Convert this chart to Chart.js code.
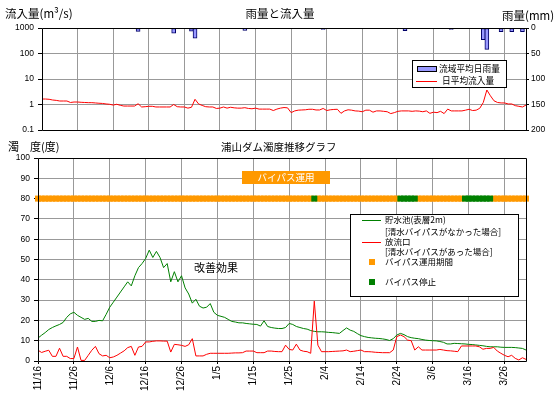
<!DOCTYPE html>
<html><head><meta charset="utf-8">
<script src="https://cdn.jsdelivr.net/npm/chart.js@4.4.1/dist/chart.umd.min.js"></script>
<style>
body{margin:0;background:#fff}
#wrap{position:relative;width:559px;height:394px;background:#fff}
canvas{position:absolute;left:0}
</style>
</head><body>
<div id="wrap">
<canvas id="topc" width="559" height="140" style="top:0"></canvas>
<canvas id="botc" width="559" height="254" style="top:140px"></canvas>
</div>
<script>
// ---------- categories ----------
const startMonth = 11, startDay = 16, dayCount = 137;
const monthLen = {11:30, 12:31, 1:31, 2:28, 3:31, 4:30};
const dates = [];
(function(){ let m = startMonth, d = startDay;
  for (let i = 0; i < dayCount; i++) { dates.push(m + '/' + d); d++; if (d > monthLen[m]) { d = 1; m = (m === 12) ? 1 : m + 1; } }
})();
const dateTickLabels = ['11/16','11/26','12/6','12/16','12/26','1/5','1/15','1/25','2/4','2/14','2/24','3/6','3/16','3/26'];

// ---------- series: 雨量と流入量 ----------
const inflow = [ // 日平均流入量 (m3/s)
 1.64,1.64,1.6,1.5,1.45,1.37,1.37,1.37,1.2,1.25,
 1.25,1.22,1.2,1.18,1.18,1.15,1.12,1.1,1.05,1.02,
 0.95,1.02,0.93,0.87,0.87,0.87,0.87,1.07,0.8,0.82,
 0.85,0.85,0.8,0.8,0.8,0.8,0.8,1.0,0.82,0.8,
 0.8,0.72,0.78,1.6,1.05,0.92,0.82,0.8,0.8,0.7,
 0.72,0.8,0.72,0.78,0.74,0.72,0.72,0.75,0.7,0.68,
 0.72,0.66,0.66,0.66,0.66,0.58,0.66,0.72,0.76,0.74,
 0.48,0.56,0.6,0.61,0.62,0.65,0.65,0.61,0.61,0.7,
 0.58,0.62,0.64,0.65,0.45,0.56,0.62,0.6,0.56,0.55,
 0.52,0.6,0.6,0.5,0.56,0.56,0.54,0.52,0.44,0.48,
 0.54,0.56,0.56,0.56,0.54,0.56,0.55,0.52,0.56,0.45,
 0.5,0.48,0.54,0.44,0.66,0.56,0.56,0.56,0.56,0.6,
 0.65,0.58,0.6,0.71,1.2,3.7,2.2,1.4,1.2,1.15,
 1.15,1.05,1.05,0.9,0.85,0.8,0.95];
const rainfall = [ // 流域平均日雨量 (mm)
 0,0,0,0,0,0,0,0,0,0,
 0,0,0,0,0,0,0,0,0,0,
 0,0,0,0,0,0,0,6.5,0,0,
 0,0,0,0,0,0,1,10,0,0,
 0,0,6,20,1,0,0,0,0,0,
 0,0,0,0,0,0,0,4.5,0,0,
 0,0,0,0,0,0,0,0,1,0,
 0,0,0,0,0,0,0,0,0,3,
 0,0,0,0,0,1,0,0,1,0,
 0,0,0,0,0,0,0,0,0,0,
 0,0,5,0,0,0,0,0,1,0,
 0,0,0,0,0,3,0,0,0,0,
 0,0,0,0,23,42,0,0,0,7,
 0,0,7,0,0,7,0];

// ---------- series: 濁度 ----------
const reservoir = [ // 貯水池(表層2m)
 11.3,12.7,14,15.5,16.5,17.3,18,19,21.5,23.2,
 24,22.5,21.5,20.5,21,19.5,19.5,20,19.8,23,
 26.5,29,31.5,34,36.5,39,37,42,46,48,
 50.5,54.6,51,54,51,46,48,39,44,39,
 42,36,33,28.5,30.4,27,26.1,26.5,28.3,24,
 22.5,22,21.5,20.5,19.5,19.2,18.8,18.8,18.5,18.3,
 18.1,18,17.2,19.8,17,16.5,16.2,16,16,16.5,
 18.5,18,17,16.5,16,15.7,15,14.6,14.4,14.4,
 14.3,14.1,14,13.8,13.6,15,16.3,15.2,14.6,13.5,
 12.5,12,11.6,11.4,11.2,11.1,10.9,10.6,10.1,11,
 12.8,13.6,13,12,11.5,11.2,11,10.6,10.3,10.1,
 10,9.9,9.6,9.2,8.4,8.4,8.7,8.6,8.5,8.4,
 8.2,8.1,7.9,7.7,7.5,7.2,7,7,7,6.8,
 6.7,6.7,6.7,6.6,6.4,6.2,5.4];
const outlet = [ // 放流口
 5.3,4.2,4.8,5.3,2.3,2.3,6.3,2.3,2.3,1.2,
 1.2,6.9,0.3,0.3,2.8,5.3,7.2,3.6,2.5,2.8,
 1.6,2,2.8,3.9,5,6.6,7.2,2.8,6.9,7.2,
 9.4,9.4,9.7,9.9,9.9,9.8,9.8,4.4,8.2,8,
 7.7,7.2,8,11,2.5,2.5,2.5,3.3,3.8,3.8,
 3.8,3.8,3.8,3.8,3.9,4,4,4.1,4.9,4.9,
 4.9,4.1,4.1,4.1,4.9,4.9,4.7,4.6,4.6,7.8,
 5.7,5.4,8.3,5.4,4.8,4.6,3.8,29.5,7.8,4.6,
 4.6,4.6,4.7,4.8,4.9,5,5.4,4.6,4.8,5.1,
 5.4,4.6,4.6,4.5,4.3,4.2,4.1,4.1,4.1,5.4,
 12,12.8,12,10.3,10,5.4,7,5.4,5.4,5.4,
 5.4,5.4,5.7,5.4,5.1,5,4.8,4.6,7.4,7.4,
 7.4,7.4,7.4,7,5.8,6.2,6.2,6.7,4.9,3.8,
 2.8,2.1,2.8,1.3,0.5,1.6,0.8];
const bypassStopDays = ['2/1','2/25','2/26','2/27','2/28','3/1','3/15','3/16','3/17','3/18','3/19','3/20','3/21','3/22'];
const bypassMarkLevel = 80;
const inflowTicks = [0.1, 1, 10, 100, 1000];

// ---------- helpers ----------
const JP = '"Noto Sans CJK JP", sans-serif';
const NUM = '"Liberation Sans", Arial, sans-serif';
const GRID = '#999999';
const dayTicks = dateTickLabels.map(s => ({value: dates.indexOf(s)}));

const framePlugin = {
  id: 'frame',
  afterDatasetsDraw(chart) {
    const a = chart.chartArea, c = chart.ctx;
    c.save(); c.strokeStyle = '#000'; c.lineWidth = 1;
    const l = Math.round(a.left) + 0.5, r = Math.round(a.right) + 0.5, t = Math.round(a.top) + 0.5, b = Math.round(a.bottom) + 0.5;
    c.beginPath(); c.moveTo(l, t); c.lineTo(r, t); c.lineTo(r, b); c.lineTo(l, b); c.closePath(); c.stroke();
    c.restore();
  }
};
function txt(c, s, x, y, size, align, color) {
  c.font = size + 'px ' + JP; c.textAlign = align || 'left'; c.textBaseline = 'middle'; c.fillStyle = color || '#000';
  c.fillText(s, x, y);
}

// ---------- top chart ----------
const topText = {
  id: 'topText',
  afterDraw(chart) {
    const c = chart.ctx; c.save();
    txt(c, '流入量(m³/s)', 5, 14, 11.5);
    txt(c, '雨量と流入量', 280, 14, 11.5, 'center');
    txt(c, '雨量(mm)', 502, 16, 11.5);
    // legend
    c.fillStyle = '#fff'; c.fillRect(412, 60, 94, 27);
    c.strokeStyle = '#000'; c.lineWidth = 1; c.strokeRect(412.5, 60.5, 94, 27);
    c.fillStyle = '#9999ff'; c.fillRect(417, 66, 19, 5); c.strokeRect(417.5, 66.5, 19, 5);
    txt(c, '流域平均日雨量', 439, 69, 8.7);
    c.strokeStyle = '#ff0000'; c.beginPath(); c.moveTo(416, 81.5); c.lineTo(437, 81.5); c.stroke();
    txt(c, '日平均流入量', 442, 81, 8.7);
    c.restore();
  }
};
new Chart(document.getElementById('topc'), {
  type: 'bar',
  data: { datasets: [
    { type: 'line', label: '日平均流入量', data: inflow.map((v, i) => ({x: i, y: v})), borderColor: '#ff0000', borderWidth: 1,
      pointRadius: 0, tension: 0, yAxisID: 'y', order: 0 },
    { type: 'bar', label: '流域平均日雨量', data: rainfall.map((v, i) => ({x: i, y: v})).filter(p => p.y > 0),
      backgroundColor: '#9999ff', borderColor: '#000066', borderWidth: 1, borderSkipped: false, barThickness: 4,
      yAxisID: 'yR', order: 1 }
  ]},
  options: {
    responsive: false, animation: false, devicePixelRatio: 1,
    layout: { padding: { left: 0, right: 0, top: 28, bottom: 10 } },
    plugins: { legend: { display: false }, tooltip: { enabled: false } },
    scales: {
      x: { type: 'linear', offset: false, min: 0, max: dayCount - 1, afterBuildTicks: s => { s.ticks = dayTicks.map(t => ({value: t.value})); },
           ticks: { display: false }, grid: { color: GRID, drawTicks: false, offset: false }, border: { display: false },
           afterFit: s => { s.height = 0; } },
      y: { type: 'logarithmic', position: 'left', min: 0.1, max: 1000,
           afterBuildTicks: s => { s.ticks = inflowTicks.map(v => ({value: v})); },
           ticks: { callback: v => String(v), font: { family: NUM, size: 8.5 }, color: '#000', padding: 4 },
           grid: { color: GRID, tickLength: 4, tickColor: '#000' }, border: { display: false },
           afterFit: s => { s.width = 42; } },
      yR: { type: 'linear', position: 'right', min: 0, max: 200, reverse: true,
           ticks: { stepSize: 50, font: { family: NUM, size: 8.5 }, color: '#000', padding: 2 },
           grid: { drawOnChartArea: false, tickLength: 3, tickColor: '#000' }, border: { display: false },
           afterFit: s => { s.width = 33; } }
    }
  },
  plugins: [framePlugin, topText]
});

// ---------- bottom chart ----------
const botText = {
  id: 'botText',
  afterDraw(chart) {
    const c = chart.ctx; c.save();
    txt(c, '濁　度(度)', 8, 7, 11);
    txt(c, '浦山ダム濁度推移グラフ', 221, 7, 10.5);
    c.fillStyle = '#ff9900'; c.fillRect(242, 31, 88, 13);
    txt(c, 'バイパス運用', 286, 37.5, 9.5, 'center', '#ffffff');
    txt(c, '改善効果', 194, 128, 11);
    // legend
    c.fillStyle = '#fff'; c.fillRect(350, 74, 168, 82);
    c.strokeStyle = '#000'; c.lineWidth = 1; c.strokeRect(350.5, 74.5, 168, 82);
    c.strokeStyle = '#008000'; c.beginPath(); c.moveTo(362, 80.5); c.lineTo(381, 80.5); c.stroke();
    txt(c, '貯水池(表層2m)', 385, 80, 8.5);
    txt(c, '[清水バイパスがなかった場合]', 385, 92, 8.5);
    c.strokeStyle = '#ff0000'; c.beginPath(); c.moveTo(362, 102.5); c.lineTo(381, 102.5); c.stroke();
    txt(c, '放流口', 385, 102, 8.5);
    txt(c, '[清水バイパスがあった場合]', 385, 112, 8.5);
    c.fillStyle = '#ff9900'; c.fillRect(369, 119, 6, 6);
    txt(c, 'バイパス運用期間', 385, 122, 8.5);
    c.fillStyle = '#008000'; c.fillRect(369, 139, 6, 6);
    txt(c, 'バイパス停止', 385, 142, 8.5);
    c.restore();
  }
};
const bypassRun = dates.map((s, i) => bypassStopDays.includes(s) ? null : {x: i, y: bypassMarkLevel}).filter(Boolean);
const bypassStop = dates.map((s, i) => bypassStopDays.includes(s) ? {x: i, y: bypassMarkLevel} : null).filter(Boolean);
new Chart(document.getElementById('botc'), {
  type: 'line',
  data: { datasets: [
    { label: 'バイパス停止', data: bypassStop, showLine: false, pointStyle: 'rect', pointRadius: 4.25, pointBorderWidth: 0,
      pointBackgroundColor: '#008000', backgroundColor: '#008000', clip: false, order: 0 },
    { label: 'バイパス運用期間', data: bypassRun, showLine: false, pointStyle: 'rect', pointRadius: 4.25, pointBorderWidth: 0,
      pointBackgroundColor: '#ff9900', backgroundColor: '#ff9900', clip: false, order: 1 },
    { label: '放流口', data: outlet.map((v, i) => ({x: i, y: v})), borderColor: '#ff0000', borderWidth: 1, pointRadius: 0, tension: 0, order: 2 },
    { label: '貯水池(表層2m)', data: reservoir.map((v, i) => ({x: i, y: v})), borderColor: '#008000', borderWidth: 1, pointRadius: 0, tension: 0, order: 3 }
  ]},
  options: {
    responsive: false, animation: false, devicePixelRatio: 1,
    layout: { padding: { left: 0, right: 33, top: 18, bottom: 0 } },
    plugins: { legend: { display: false }, tooltip: { enabled: false } },
    scales: {
      x: { type: 'linear', min: 0, max: dayCount - 1,
           afterBuildTicks: s => { s.ticks = dayTicks.map(t => ({value: t.value})); },
           ticks: { autoSkip: false, minRotation: 90, maxRotation: 90, callback: v => dates[v], font: { family: NUM, size: 10 }, color: '#000', padding: 2 },
           grid: { color: GRID, tickLength: 3, tickColor: '#000' }, border: { display: false },
           afterFit: s => { s.height = 33; } },
      y: { type: 'linear', position: 'left', min: 0, max: 100,
           ticks: { stepSize: 10, font: { family: NUM, size: 8.5 }, color: '#000', padding: 4 },
           grid: { color: GRID, tickLength: 4, tickColor: '#000' }, border: { display: false },
           afterFit: s => { s.width = 38; } }
    }
  },
  plugins: [framePlugin, botText]
});
</script>
</body></html>
